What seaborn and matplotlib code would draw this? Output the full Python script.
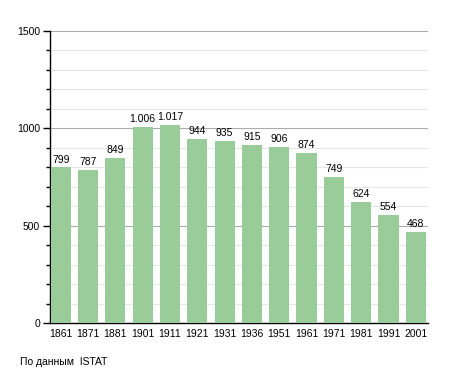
import matplotlib
matplotlib.use("Agg")
import matplotlib.pyplot as plt
import seaborn as sns
import pandas as pd
from matplotlib.ticker import MultipleLocator

# --- data ---
years = ["1861", "1871", "1881", "1901", "1911", "1921", "1931",
         "1936", "1951", "1961", "1971", "1981", "1991", "2001"]
population = [799, 787, 849, 1006, 1017, 944, 935,
              915, 906, 874, 749, 624, 554, 468]

df = pd.DataFrame({"year": years, "pop": population})

sns.set_style("white")
plt.rcParams["font.family"] = ["Liberation Sans", "DejaVu Sans"]
plt.rcParams["text.color"] = "black"
plt.rcParams["xtick.color"] = "black"
plt.rcParams["ytick.color"] = "black"

fig = plt.figure(figsize=(4.55, 3.73), dpi=100)
ax = fig.add_axes([0.110, 0.134, 0.831, 0.783])

sns.barplot(data=df, x="year", y="pop", color="#99cc99", saturation=1,
            width=0.74, linewidth=0, ax=ax, zorder=3)

for i, v in enumerate(population):
    lbl = f"{v:,}".replace(",", ".")
    ax.text(i, v + 15, lbl, ha="center", va="bottom", fontsize=7.5, zorder=4)

ax.set_ylim(0, 1500)
ax.set_xlim(-0.39, len(years) - 0.55)
ax.yaxis.set_major_locator(MultipleLocator(500))
ax.yaxis.set_minor_locator(MultipleLocator(100))
ax.grid(which="major", axis="y", color="#ababab", lw=0.8, zorder=0)
ax.grid(which="minor", axis="y", color="#e6e6e6", lw=0.8, zorder=0)
ax.set_axisbelow(True)

for s in ["top", "right"]:
    ax.spines[s].set_visible(False)
for s in ["left", "bottom"]:
    ax.spines[s].set_color("black")
    ax.spines[s].set_linewidth(1.0)

ax.tick_params(axis="y", which="major", left=True, length=5, width=1,
               labelsize=7.5, pad=2)
ax.tick_params(axis="y", which="minor", left=True, length=3, width=1)
ax.tick_params(axis="x", bottom=False, labelsize=7.5, pad=1)
ax.set_xlabel("")
ax.set_ylabel("")

fig.text(0.044, 0.03, "По данным  ISTAT", fontsize=7.5, ha="left", va="center")

fig.savefig("out.png", dpi=100)
